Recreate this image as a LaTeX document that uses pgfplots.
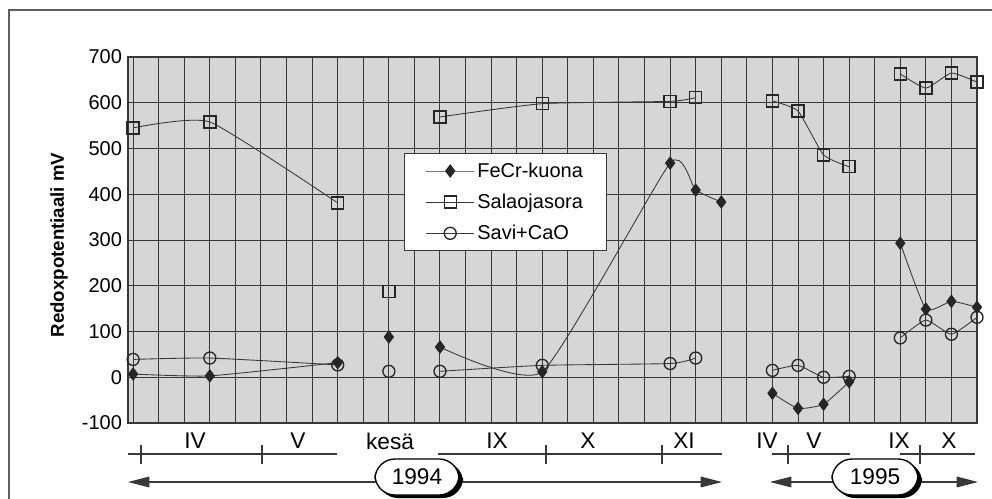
\documentclass[border=0pt]{standalone}
\usepackage{fontspec}
\setmainfont{Liberation Sans}
\usepackage{pgfplots}
\pgfplotsset{compat=1.18}
\usetikzlibrary{arrows.meta}
\definecolor{bgc}{gray}{0.84}
\definecolor{gridc}{gray}{0.22}
\definecolor{linec}{gray}{0.22}
\definecolor{markc}{gray}{0.15}

\begin{document}
\begin{tikzpicture}
\begin{scope}[x=0.75pt,y=-0.75pt]
\useasboundingbox (0,0) rectangle (992,499);
\fill[white] (0,0) rectangle (992,499);
\draw[gridc!80, line width=1.1pt] (9,499) -- (9,10) -- (995,10);
\end{scope}

\begin{axis}[
  at={(96pt,-317.25pt)}, anchor=south west,
  scale only axis, width=636.75pt, height=274.5pt,
  xmin=-0.2, xmax=33, ymin=-100, ymax=700,
  xtick={0,...,33}, xticklabels={},
  ytick={-100,0,100,200,300,400,500,600,700},
  yticklabels={-100,0,100,200,300,400,500,600,700},
  grid=major,
  major grid style={draw=gridc, line width=0.75pt},
  axis line style={draw=gridc, line width=0.9pt},
  tick style={draw=none},
  axis background/.style={fill=bgc},
  yticklabel style={font=\fontsize{15pt}{17pt}\selectfont, xshift=-1pt},
  unbounded coords=jump,
  clip=false,
  legend cell align=left,
  legend style={at={(0.325,0.738)}, anchor=north west, draw=gridc, line width=0.8pt,
    fill=white, font=\fontsize{15pt}{18pt}\selectfont,
    inner xsep=16pt, inner ysep=5pt, row sep=7pt},
  legend image code/.code={\draw[mark repeat=2,mark phase=2] plot coordinates {(0pt,0pt)(18pt,0pt)(36pt,0pt)};},
  every axis plot/.append style={line width=0.65pt, draw=linec, smooth, tension=0.3},
]
\addplot[mark=diamond*, mark size=4.5pt, mark options={fill=markc, draw=markc, solid, line width=0.8pt}] coordinates {
 (0,7) (3,3) (8,32) (9,nan) (10,88) (11,nan) (12,66) (16,12) (21,468) (22,409) (23,383) (24,nan)
 (25,-35) (26,-68) (27,-59) (28,-10) (29,nan) (30,293) (31,149) (32,166) (33,153)};
\addlegendentry{FeCr-kuona}
\addplot[mark=square, mark size=4.5pt, mark options={draw=markc, solid, line width=1pt}] coordinates {
 (0,545) (3,558) (8,381) (9,nan) (10,188) (11,nan) (12,569) (16,598) (21,603) (22,611) (24,nan)
 (25,604) (26,582) (27,486) (28,460) (29,nan) (30,663) (31,632) (32,665) (33,645)};
\addlegendentry{Salaojasora}
\addplot[mark=o, mark size=4.5pt, mark options={draw=markc, solid, line width=1pt}] coordinates {
 (0,39) (3,42) (8,27) (9,nan) (10,13) (11,nan) (12,13) (16,26) (21,30) (22,42) (24,nan)
 (25,15) (26,26) (27,0) (28,2) (29,nan) (30,86) (31,125) (32,94) (33,131)};
\addlegendentry{Savi+CaO}
\end{axis}

\begin{scope}[x=0.75pt,y=-0.75pt]
% y label
\node[rotate=90, font=\bfseries\fontsize{14pt}{16pt}\selectfont] at (59,245) {Redoxpotentiaali mV};
% month labels
\begin{scope}[every node/.style={font=\fontsize{17pt}{19pt}\selectfont, inner sep=0pt}]
\node at (195,441) {IV};
\node at (298,441) {V};
\node at (390,441) {kesä};
\node at (497,441) {IX};
\node at (588,441) {X};
\node at (684,441) {XI};
\node at (767,441) {IV};
\node at (814,441) {V};
\node at (899,441) {IX};
\node at (949,441) {X};
\end{scope}
% tick rows
\begin{scope}[draw=gridc, line width=0.8pt]
\draw (128,454) -- (337,454);
\draw (141,445) -- (141,464);
\draw (262,445) -- (262,464);
\draw (438,454) -- (722,454);
\draw (546,445) -- (546,464);
\draw (662,445) -- (662,464);
\draw (772,454) -- (850,454);
\draw (788,445) -- (788,464);
\draw (900,454) -- (975,454);
\draw (920,445) -- (920,464);
\end{scope}
% year arrows
\draw[gridc, line width=0.85pt, {Triangle[length=16pt,width=8pt]}-{Triangle[length=16pt,width=8pt]}] (128,482) -- (722,482);
\draw[gridc, line width=0.85pt, {Triangle[length=16pt,width=8pt]}-{Triangle[length=16pt,width=8pt]}] (770,482) -- (978,482);
% year boxes
\fill[black, rounded corners=15pt] (378,462) rectangle (463,498);
\filldraw[fill=white, draw=black, line width=1pt, rounded corners=15pt] (375,459) rectangle (459,495);
\node[font=\fontsize{17pt}{19pt}\selectfont] at (417,477) {1994};
\fill[black, rounded corners=15pt] (835,462) rectangle (922,498);
\filldraw[fill=white, draw=black, line width=1pt, rounded corners=15pt] (832,459) rectangle (918,495);
\node[font=\fontsize{17pt}{19pt}\selectfont] at (875,477) {1995};
\end{scope}
\end{tikzpicture}
\end{document}
